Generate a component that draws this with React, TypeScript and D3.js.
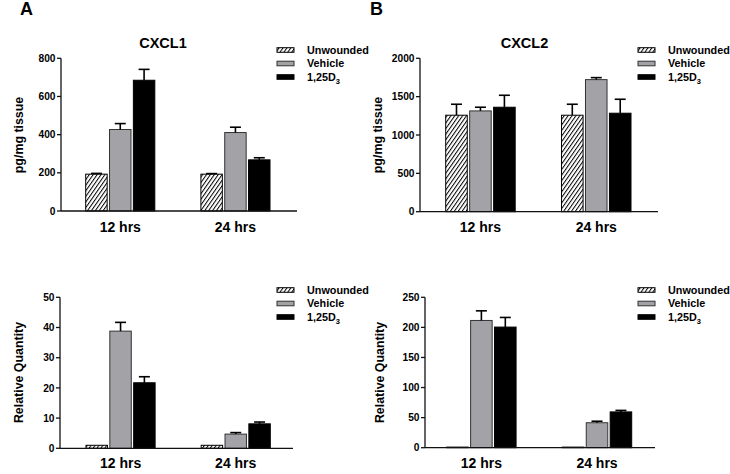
import React from "react";
import * as d3 from "d3";

const categories = ["12 hrs", "24 hrs"];
const seriesNames = ["Unwounded", "Vehicle", "1,25D"];

// values indexed [series][category]
const cxcl1ProteinMean = [[193, 193], [427, 411], [685, 268]];
const cxcl1ProteinErr = [[197, 196], [458, 439], [742, 279]];
const cxcl2ProteinMean = [[1258, 1258], [1314, 1722], [1362, 1284]];
const cxcl2ProteinErr = [[1401, 1401], [1362, 1748], [1518, 1466]];
const cxcl1RqMean = [[1, 1], [38.8, 4.7], [21.7, 8.1]];
const cxcl1RqErr = [[1, 1], [41.7, 5.2], [23.7, 8.7]];
const cxcl2RqMean = [[1, 1], [211.5, 41.5], [200.5, 59.5]];
const cxcl2RqErr = [[1, 1], [227.5, 44], [216.5, 62]];

const ticksTL = [0, 200, 400, 600, 800];
const ticksTR = [0, 500, 1000, 1500, 2000];
const ticksBL = [0, 10, 20, 30, 40, 50];
const ticksBR = [0, 50, 100, 150, 200, 250];

const FONT = "'Liberation Sans', Arial, Helvetica, sans-serif";
const GRAY = "#a3a3a7";

type PanelProps = {
  means: number[][];
  errs: number[][];
  ticks: number[];
  axisX: number;
  axisEnd: number;
  clusterStart: number;
  clusterEnd: number;
  yTop: number;
  yZero: number;
  title?: string;
  titleX?: number;
  yLabel: string;
  yLabelX: number;
  yLabelY: number;
  catBaseline: number;
  legendX: number;
  legendY: number;
};

function fillFor(i: number) {
  if (i === 0) return "url(#hatch)";
  if (i === 1) return GRAY;
  return "#000";
}
function strokeFor(i: number) {
  if (i === 1) return "#333";
  return "#000";
}

function Panel(p: PanelProps) {
  const max = p.ticks[p.ticks.length - 1];
  const y = d3.scaleLinear().domain([0, max]).range([p.yZero, p.yTop]);
  const gx = d3
    .scaleBand<string>()
    .domain(categories)
    .range([p.clusterStart, p.clusterEnd])
    .paddingInner(0.4)
    .paddingOuter(0);
  const sx = d3
    .scaleBand<string>()
    .domain(seriesNames)
    .range([0, gx.bandwidth()])
    .paddingInner(0.1)
    .paddingOuter(0);
  return (
    <g>
      {p.title && (
        <text x={p.titleX} y={47.7} textAnchor="middle" fontSize={14.5} fontWeight="bold" fontFamily={FONT}>
          {p.title}
        </text>
      )}
      {/* bars */}
      {categories.map((c, ci) =>
        seriesNames.map((s, si) => {
          const x0 = (gx(c) as number) + (sx(s) as number);
          const w = sx.bandwidth();
          const v = p.means[si][ci];
          const e = p.errs[si][ci];
          const top = y(v);
          const cx = x0 + w / 2;
          return (
            <g key={c + s}>
              <rect x={x0} y={top} width={w} height={p.yZero - top} fill={fillFor(si)} stroke={strokeFor(si)} strokeWidth={1} />
              {e > v && (
                <g stroke="#000" strokeWidth={1.6}>
                  <line x1={cx} x2={cx} y1={top} y2={y(e)} />
                  <line x1={cx - 5.5} x2={cx + 5.5} y1={y(e)} y2={y(e)} />
                </g>
              )}
            </g>
          );
        })
      )}
      {/* axes */}
      <line x1={p.axisX} x2={p.axisX} y1={p.yZero} y2={p.yTop} stroke="#111" strokeWidth={1.3} />
      <line x1={p.axisX} x2={p.axisEnd} y1={p.yZero} y2={p.yZero} stroke="#111" strokeWidth={1.3} />
      {p.ticks.map((t) => (
        <g key={t}>
          <line x1={p.axisX - 4} x2={p.axisX} y1={y(t)} y2={y(t)} stroke="#111" strokeWidth={1.3} />
          <text x={p.axisX - 5.5} y={y(t)} dy="0.36em" textAnchor="end" fontSize={10.2} fontWeight="bold" fontFamily={FONT}>
            {t}
          </text>
        </g>
      ))}
      {categories.map((c) => (
        <text key={c} x={(gx(c) as number) + gx.bandwidth() / 2} y={p.catBaseline} textAnchor="middle" fontSize={14} fontWeight="bold" fontFamily={FONT}>
          {c}
        </text>
      ))}
      <text
        transform={`translate(${p.yLabelX},${p.yLabelY}) rotate(-90)`}
        textAnchor="middle"
        fontSize={12.4}
        fontWeight="bold"
        fontFamily={FONT}
      >
        {p.yLabel}
      </text>
      {/* legend */}
      {seriesNames.map((s, si) => (
        <g key={s} transform={`translate(${p.legendX},${p.legendY + si * 13.5})`}>
          <rect x={0} y={-2.3} width={17} height={4.6} fill={fillFor(si)} stroke={strokeFor(si)} strokeWidth={1} />
          <text x={30} y={3.6} fontSize={10.8} fontWeight="bold" fontFamily={FONT}>
            {s}
            {si === 2 && (
              <tspan fontSize={7.5} dy={3}>
                3
              </tspan>
            )}
          </text>
        </g>
      ))}
    </g>
  );
}

export default function App() {
  return (
    <svg
      width={730}
      height={474}
      style={{ position: "absolute", left: 0, top: 0, background: "#fff" }}
    >
      <defs>
        <pattern id="hatch" patternUnits="userSpaceOnUse" width={3.2} height={10} patternTransform="rotate(35)">
          <rect width={3.2} height={10} fill="#fff" />
          <line x1={0.5} x2={0.5} y1={0} y2={10} stroke="#000" strokeWidth={1} />
        </pattern>
      </defs>
      <rect width={730} height={474} fill="#fff" />
      <text x={20} y={15} fontSize={18} fontWeight="bold" fontFamily={FONT}>A</text>
      <text x={370} y={15} fontSize={18} fontWeight="bold" fontFamily={FONT}>B</text>
      <Panel
        means={cxcl1ProteinMean}
        errs={cxcl1ProteinErr}
        ticks={ticksTL}
        axisX={61}
        axisEnd={297}
        clusterStart={85.7}
        clusterEnd={270}
        yTop={58.3}
        yZero={211}
        title="CXCL1"
        titleX={163}
        yLabel="pg/mg tissue"
        yLabelX={23}
        yLabelY={135}
        catBaseline={231.5}
        legendX={277}
        legendY={50}
      />
      <Panel
        means={cxcl2ProteinMean}
        errs={cxcl2ProteinErr}
        ticks={ticksTR}
        axisX={420}
        axisEnd={658}
        clusterStart={445.7}
        clusterEnd={631}
        yTop={58.3}
        yZero={211.7}
        title="CXCL2"
        titleX={524.5}
        yLabel="pg/mg tissue"
        yLabelX={382}
        yLabelY={135}
        catBaseline={231.5}
        legendX={638}
        legendY={50}
      />
      <Panel
        means={cxcl1RqMean}
        errs={cxcl1RqErr}
        ticks={ticksBL}
        axisX={60}
        axisEnd={293}
        clusterStart={86}
        clusterEnd={270.3}
        yTop={297.3}
        yZero={448.3}
        yLabel="Relative Quantity"
        yLabelX={23}
        yLabelY={372.5}
        catBaseline={468}
        legendX={277}
        legendY={290}
      />
      <Panel
        means={cxcl2RqMean}
        errs={cxcl2RqErr}
        ticks={ticksBR}
        axisX={425}
        axisEnd={655}
        clusterStart={446.7}
        clusterEnd={631.7}
        yTop={297.3}
        yZero={447.7}
        yLabel="Relative Quantity"
        yLabelX={384}
        yLabelY={372.5}
        catBaseline={468}
        legendX={638}
        legendY={290}
      />
    </svg>
  );
}
